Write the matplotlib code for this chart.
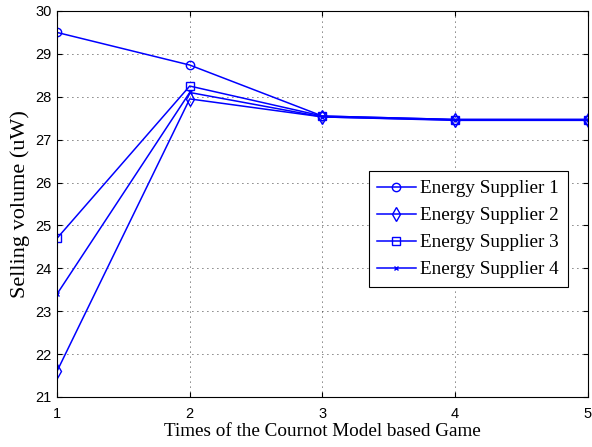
import numpy as np
import matplotlib
matplotlib.use('Agg')
import matplotlib.pyplot as plt

# Data
rounds = [1, 2, 3, 4, 5]
supplier1 = [29.5, 28.74, 27.55, 27.47, 27.47]
supplier2 = [21.6, 27.95, 27.53, 27.45, 27.45]
supplier3 = [24.7, 28.25, 27.55, 27.47, 27.47]
supplier4 = [23.4, 28.1, 27.53, 27.46, 27.46]
labels = ['Energy Supplier 1', 'Energy Supplier 2', 'Energy Supplier 3', 'Energy Supplier 4']

fig = plt.figure(figsize=(5.92, 4.47), dpi=100)
ax = fig.add_axes([0.0963, 0.1119, 0.8967, 0.8635])

blue = '#0000ff'
ax.plot(rounds, supplier1, color=blue, marker='o', markersize=6, mfc='none', lw=1.1, label=labels[0])
ax.plot(rounds, supplier2, color=blue, marker='d', markersize=7.5, mfc='none', lw=1.1, label=labels[1])
ax.plot(rounds, supplier3, color=blue, marker='s', markersize=6, mfc='none', lw=1.1, label=labels[2])
ax.plot(rounds, supplier4, color=blue, marker='x', markersize=3, lw=1.1, label=labels[3])

ax.set_xlim(1, 5)
ax.set_ylim(21, 30)
ax.set_xticks(rounds)
ax.set_yticks(range(21, 31))
ax.tick_params(direction='in', top=True, right=True, labelsize=10.5)
ax.tick_params(axis='x', pad=7)
ax.tick_params(axis='y', pad=4)
for lbl in ax.get_xticklabels() + ax.get_yticklabels():
    lbl.set_family('Liberation Sans')
ax.grid(True, linestyle=(0, (1, 5)), color='black', lw=0.6)

ax.set_xlabel('Times of the Cournot Model based Game', family='Liberation Serif', fontsize=13.8, labelpad=2)
ax.set_ylabel('Selling volume (uW)', family='Liberation Serif', fontsize=16)
ax.yaxis.set_label_coords(-0.05, 0.5)

leg = ax.legend(loc='lower right', bbox_to_anchor=(0.962, 0.285), prop={'family': 'Liberation Serif', 'size': 13.8},
                fancybox=False, edgecolor='black', framealpha=1, borderaxespad=0, handlelength=2.0,
                handletextpad=0.25, labelspacing=0.5, borderpad=0.45)
leg.get_frame().set_linewidth(0.8)

plt.savefig('out.png', dpi=100)
plt.close()
